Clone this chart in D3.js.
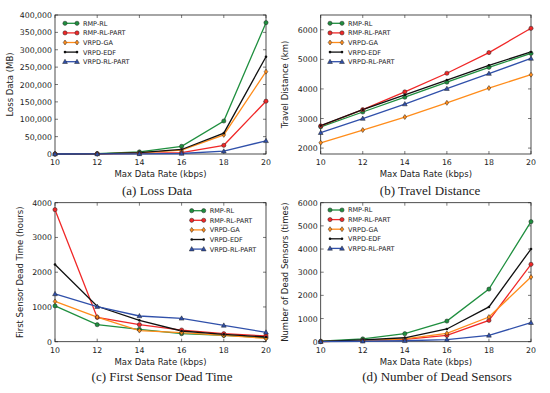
<!DOCTYPE html>
<html>
<head>
<meta charset="utf-8">
<script src="https://cdn.jsdelivr.net/npm/d3@7.9.0/dist/d3.min.js"></script>
<style>
  body { margin: 0; background: #fff; }
  svg { display: block; }
  .tick-label { font-family: "DejaVu Sans", sans-serif; font-size: 7.8px; fill: #222; }
  .axis-label { font-family: "DejaVu Sans", sans-serif; font-size: 8.5px; fill: #222; }
  .legend-text { font-family: "DejaVu Sans", sans-serif; font-size: 6.5px; fill: #222; }
  .caption { font-family: "Liberation Serif", "Times New Roman", serif; font-size: 13px; fill: #222; }
</style>
</head>
<body>
<div id="chart"></div>
<script>
// ------------------- Data -------------------
const rates = [10, 12, 14, 16, 18, 20];
const seriesNames = ['RMP-RL', 'RMP-RL-PART', 'VRPD-GA', 'VRPD-EDF', 'VRPD-RL-PART'];
const seriesColors = ['#1f8f3f', '#f02828', '#ff8c1a', '#111111', '#3050aa'];
const seriesShapes = ['circle', 'circle', 'diamond', 'dot', 'triangle'];

const lossData = [
  [0, 1000, 6000, 22000, 95000, 378000],
  [0, 500, 2000, 4000, 25000, 152000],
  [0, 500, 3000, 11000, 55000, 237000],
  [0, 500, 4000, 13000, 60000, 280000],
  [0, 200, 500, 1500, 8000, 38000]
];
const travelData = [
  [2720, 3220, 3720, 4230, 4730, 5200],
  [2750, 3300, 3900, 4530, 5230, 6050],
  [2180, 2610, 3050, 3530, 4030, 4480],
  [2760, 3300, 3800, 4300, 4800, 5250],
  [2520, 3000, 3490, 4010, 4520, 5030]
];
const deadTimeData = [
  [1030, 490, 355, 230, 180, 115],
  [3800, 700, 490, 336, 230, 165],
  [1160, 710, 320, 260, 180, 95],
  [2220, 1020, 615, 308, 210, 135],
  [1375, 1010, 740, 673, 470, 270]
];
const deadSensorData = [
  [20, 120, 345, 890, 2270, 5180],
  [5, 50, 100, 270, 920, 3340],
  [5, 50, 120, 360, 1065, 2790],
  [10, 80, 170, 550, 1500, 4000],
  [0, 20, 40, 90, 275, 820]
];

const xTicks = [10, 12, 14, 16, 18, 20];
const lossTicks = [0, 50000, 100000, 150000, 200000, 250000, 300000, 350000, 400000];
const travelTicks = [2000, 3000, 4000, 5000, 6000];
const deadTimeTicks = [0, 1000, 2000, 3000, 4000];
const deadSensorTicks = [0, 1000, 2000, 3000, 4000, 5000, 6000];

// ------------------- Panels -------------------
const panels = [
  { data: lossData, ticks: lossTicks, domain: [0, 400000], fmt: d3.format(','),
    box: { l: 55, r: 266, t: 15, b: 154 }, ylab: 'Loss Data (MB)', ylabX: 13,
    caption: '(a) Loss Data', capX: 157, capY: 195, legend: { x: 65, y: 23.3 } },
  { data: travelData, ticks: travelTicks, domain: [1800, 6500], fmt: d3.format('d'),
    box: { l: 320.7, r: 531, t: 15, b: 154 }, ylab: 'Travel Distance (km)', ylabX: 288,
    caption: '(b) Travel Distance', capX: 430, capY: 195, legend: { x: 330, y: 23.3 } },
  { data: deadTimeData, ticks: deadTimeTicks, domain: [0, 4000], fmt: d3.format('d'),
    box: { l: 55, r: 266, t: 202.7, b: 341.7 }, ylab: 'First Sensor Dead Time (hours)', ylabX: 23,
    caption: '(c) First Sensor Dead Time', capX: 162, capY: 381, legend: { x: 191.7, y: 210.7 } },
  { data: deadSensorData, ticks: deadSensorTicks, domain: [0, 6000], fmt: d3.format('d'),
    box: { l: 320.7, r: 531, t: 202.7, b: 341.7 }, ylab: 'Number of Dead Sensors (times)', ylabX: 288,
    caption: '(d) Number of Dead Sensors', capX: 437, capY: 381, legend: { x: 330, y: 210 } }
];

const svg = d3.select('#chart').append('svg')
  .attr('width', 550).attr('height', 393);

svg.append('rect').attr('width', 550).attr('height', 393).attr('fill', '#fff');

function drawMarker(g, shape, x, y, color) {
  if (shape === 'circle') {
    g.append('circle').attr('cx', x).attr('cy', y).attr('r', 2.1)
      .attr('fill', color).attr('stroke', '#222').attr('stroke-width', 0.5);
  } else if (shape === 'diamond') {
    g.append('path')
      .attr('d', `M${x},${y - 2.5}L${x + 1.8},${y}L${x},${y + 2.5}L${x - 1.8},${y}Z`)
      .attr('fill', color).attr('stroke', '#222').attr('stroke-width', 0.5);
  } else if (shape === 'triangle') {
    g.append('path')
      .attr('d', `M${x},${y - 2.5}L${x + 2.4},${y + 1.8}L${x - 2.4},${y + 1.8}Z`)
      .attr('fill', color).attr('stroke', '#222').attr('stroke-width', 0.5);
  } else {
    g.append('circle').attr('cx', x).attr('cy', y).attr('r', 1.3)
      .attr('fill', color);
  }
}

panels.forEach(p => {
  const { l, r, t, b } = p.box;
  const x = d3.scaleLinear().domain([10, 20]).range([l, r]);
  const y = d3.scaleLinear().domain(p.domain).range([b, t]);
  const g = svg.append('g');

  // frame
  g.append('rect').attr('x', l).attr('y', t).attr('width', r - l).attr('height', b - t)
    .attr('fill', 'none').attr('stroke', '#222').attr('stroke-width', 0.8);

  // inward ticks on all sides
  xTicks.forEach(v => {
    g.append('line').attr('x1', x(v)).attr('x2', x(v)).attr('y1', b).attr('y2', b - 3)
      .attr('stroke', '#222').attr('stroke-width', 0.6);
    g.append('line').attr('x1', x(v)).attr('x2', x(v)).attr('y1', t).attr('y2', t + 3)
      .attr('stroke', '#222').attr('stroke-width', 0.6);
    g.append('text').attr('class', 'tick-label').attr('x', x(v)).attr('y', b + 11)
      .attr('text-anchor', 'middle').text(v);
  });
  p.ticks.forEach(v => {
    g.append('line').attr('x1', l).attr('x2', l + 3).attr('y1', y(v)).attr('y2', y(v))
      .attr('stroke', '#222').attr('stroke-width', 0.6);
    g.append('line').attr('x1', r).attr('x2', r - 3).attr('y1', y(v)).attr('y2', y(v))
      .attr('stroke', '#222').attr('stroke-width', 0.6);
    g.append('text').attr('class', 'tick-label').attr('x', l - 3).attr('y', y(v) + 3)
      .attr('text-anchor', 'end').text(p.fmt(v));
  });

  // series
  const line = d3.line().x((d, i) => x(rates[i])).y(d => y(d));
  p.data.forEach((vals, si) => {
    g.append('path').attr('d', line(vals)).attr('fill', 'none')
      .attr('stroke', seriesColors[si]).attr('stroke-width', 1.3);
  });
  p.data.forEach((vals, si) => {
    vals.forEach((v, i) => drawMarker(g, seriesShapes[si], x(rates[i]), y(v), seriesColors[si]));
  });

  // legend
  seriesNames.forEach((name, si) => {
    const ly = p.legend.y + si * 9.6;
    g.append('line').attr('x1', p.legend.x).attr('x2', p.legend.x + 12).attr('y1', ly).attr('y2', ly)
      .attr('stroke', seriesColors[si]).attr('stroke-width', 1.3);
    drawMarker(g, seriesShapes[si], p.legend.x, ly, seriesColors[si]);
    drawMarker(g, seriesShapes[si], p.legend.x + 12, ly, seriesColors[si]);
    g.append('text').attr('class', 'legend-text').attr('x', p.legend.x + 18).attr('y', ly + 2.4)
      .text(name);
  });

  // labels
  g.append('text').attr('class', 'axis-label').attr('x', (l + r) / 2).attr('y', b + 23)
    .attr('text-anchor', 'middle').text('Max Data Rate (kbps)');
  g.append('text').attr('class', 'axis-label')
    .attr('transform', `translate(${p.ylabX},${(t + b) / 2}) rotate(-90)`)
    .attr('text-anchor', 'middle').text(p.ylab);
  g.append('text').attr('class', 'caption').attr('x', p.capX).attr('y', p.capY)
    .attr('text-anchor', 'middle').text(p.caption);
});
</script>
</body>
</html>
